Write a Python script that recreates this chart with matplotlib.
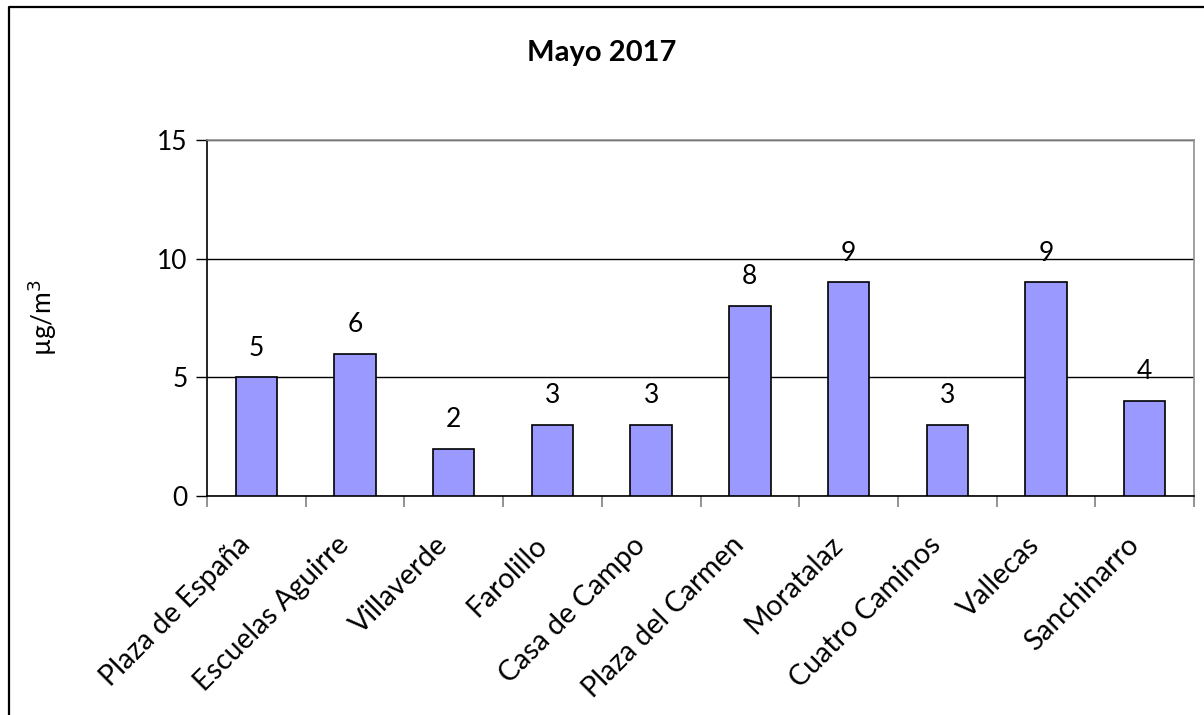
import numpy as np
import matplotlib
matplotlib.use("Agg")
from matplotlib import pyplot as plt
from matplotlib.lines import Line2D
from matplotlib.transforms import ScaledTranslation

plt.rcParams['font.family'] = ['Lato', 'DejaVu Sans']

stations = ["Plaza de España", "Escuelas Aguirre", "Villaverde", "Farolillo",
            "Casa de Campo", "Plaza del Carmen", "Moratalaz", "Cuatro Caminos",
            "Vallecas", "Sanchinarro"]
values = [5, 6, 2, 3, 3, 8, 9, 3, 9, 4]
y_ticks = [0, 5, 10, 15]

W, H = 1204, 715
fig = plt.figure(figsize=(W / 100, H / 100), dpi=100)
ax = fig.add_axes([207 / W, 1 - 496 / H, (1194 - 207) / W, (496 - 140) / H])

x = np.arange(len(stations))
bars = ax.bar(x, values, width=0.42, color="#9999ff", edgecolor="black", linewidth=1.2, zorder=3)

for xi, v in zip(x, values):
    ax.annotate(str(v), (xi, v), xytext=(0, 12), textcoords="offset points",
                ha="center", va="bottom", fontsize=19)

ax.set_xlim(-0.5, len(stations) - 0.5)
ax.set_ylim(0, 15)
ax.set_yticks(y_ticks)
ax.tick_params(axis="y", labelsize=19, length=8, direction="out", width=1, pad=6)
ax.yaxis.grid(True, color="black", linewidth=1, zorder=0)

ax.set_xticks(x)
ax.set_xticklabels(stations, rotation=45, ha="right", va="center",
                   rotation_mode="anchor", fontsize=20.5)
ax.tick_params(axis="x", length=0, pad=0)
shift = ScaledTranslation(-10 / 100, -45 / 100, fig.dpi_scale_trans)
for lbl in ax.get_xticklabels():
    lbl.set_transform(lbl.get_transform() + shift)
ax.set_xticks(np.arange(len(stations) + 1) - 0.5, minor=True)
ax.tick_params(axis="x", which="minor", length=8, color="#808080", width=1.2)

ax.spines["left"].set_color("black")
ax.spines["bottom"].set_color("black")
ax.spines["top"].set_color("#909090")
ax.spines["right"].set_color("#909090")
for s in ax.spines.values():
    s.set_linewidth(1.2)

ax.set_ylabel("µg/m$^3$", fontsize=19)
ax.yaxis.set_label_coords(-148 / (1194 - 207), 0.5)

fig.text(0.5, 1 - 53 / H, "Mayo 2017", ha="center", va="center", fontsize=21, fontweight="bold")

# outer chart frame (cropped at right and bottom)
fig.add_artist(Line2D([8.5 / W, 8.5 / W, 1.0], [0.0, 1 - 6.5 / H, 1 - 6.5 / H],
                      transform=fig.transFigure, color="black", linewidth=1.6))

fig.savefig("out.png", dpi=100, facecolor="white")
